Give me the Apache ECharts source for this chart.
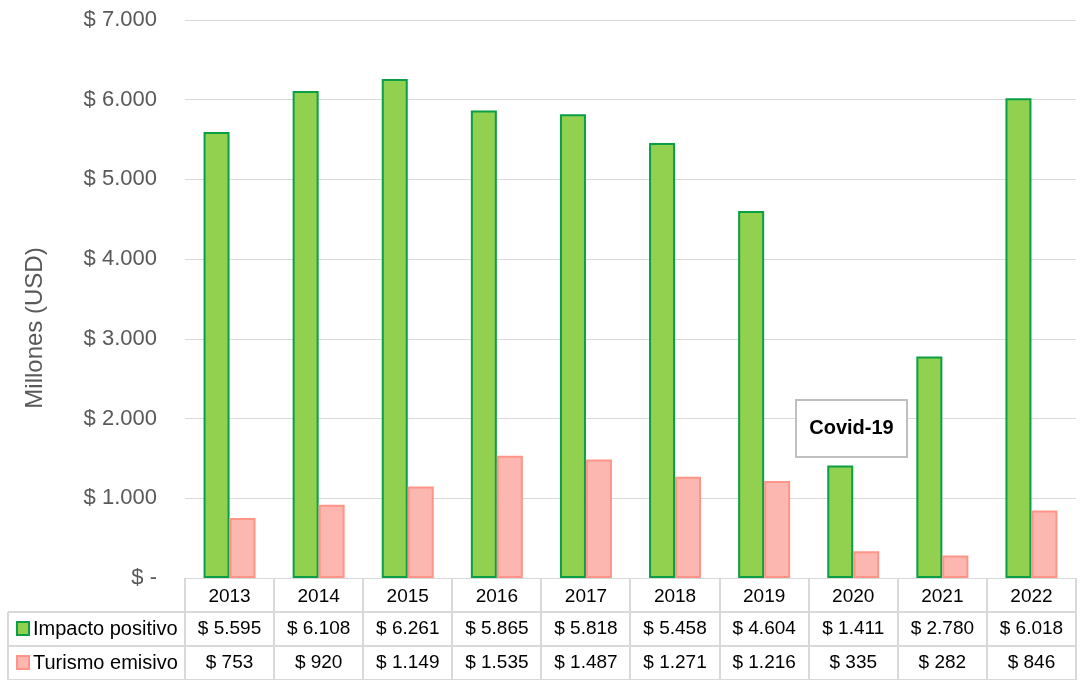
<!DOCTYPE html>
<html>
<head>
<meta charset="utf-8">
<script src="https://cdn.jsdelivr.net/npm/echarts@6/dist/echarts.min.js"></script>
<style>html,body{margin:0;padding:0;background:#fff}#c{width:1081px;height:680px}</style>
</head>
<body>
<div id="c"></div>
<script>
var years = ['2013','2014','2015','2016','2017','2018','2019','2020','2021','2022'];
var impactoPositivo = [5595, 6108, 6261, 5865, 5818, 5458, 4604, 1411, 2780, 6018];
var turismoEmisivo = [753, 920, 1149, 1535, 1487, 1271, 1216, 335, 282, 846];
var seriesNames = ['Impacto positivo', 'Turismo emisivo'];
var yTicks = [0, 1000, 2000, 3000, 4000, 5000, 6000, 7000];
var yAxisTitle = 'Millones (USD)';
var annotationText = 'Covid-19';

function fmt(v) {
  if (v === 0) return '$ -';
  return '$ ' + String(v).replace(/\B(?=(\d{3})+(?!\d))/g, '.');
}

var FONT = 'Liberation Sans';
var GREEN = '#92D050', GREEN_B = '#0A9E45';
var PINK = '#FCB8B0', PINK_B = '#FF9489';
var LINE = '#D9D9D9';

var chart = echarts.init(document.getElementById('c'));
chart.setOption({
  animation: false,
  textStyle: {fontFamily: FONT},
  grid: {left: 185, right: 5, top: 20, bottom: 102, containLabel: false},
  xAxis: {
    type: 'category', data: years,
    axisLine: {show: true, lineStyle: {color: LINE, width: 1}},
    axisTick: {show: false},
    axisLabel: {color: '#000', fontSize: 19, margin: 9, fontFamily: FONT}
  },
  yAxis: {
    type: 'value', min: yTicks[0], max: yTicks[yTicks.length - 1], interval: 1000,
    axisLine: {show: false}, axisTick: {show: false},
    axisLabel: {color: '#595959', fontSize: 22, margin: 28, formatter: fmt, fontFamily: FONT},
    splitLine: {lineStyle: {color: LINE, width: 1}}
  },
  series: [
    {name: seriesNames[0], type: 'bar', data: impactoPositivo, barWidth: 26, barGap: '0%',
     itemStyle: {color: GREEN, borderColor: GREEN_B, borderWidth: 2}},
    {name: seriesNames[1], type: 'bar', data: turismoEmisivo, barWidth: 26, barGap: '0%',
     itemStyle: {color: PINK, borderColor: PINK_B, borderWidth: 2}}
  ]
});

function drawTable() {
  var els = [];
  var p0 = chart.convertToPixel({xAxisIndex: 0}, years[0]);
  var p1 = chart.convertToPixel({xAxisIndex: 0}, years[1]);
  var cw = p1 - p0;
  var left = p0 - cw / 2;
  var right = chart.convertToPixel({xAxisIndex: 0}, years[years.length - 1]) + cw / 2;
  var axisY = chart.convertToPixel({yAxisIndex: 0}, 0);
  var rowH = 34;
  var r1 = axisY + rowH, r2 = axisY + 2 * rowH, r3 = axisY + 3 * rowH;
  var tableLeft = 8;
  var ls = {stroke: LINE, lineWidth: 2};
  for (var i = 0; i <= years.length; i++) {
    var x = Math.round(left + i * cw);
    els.push({type: 'line', shape: {x1: x, y1: axisY, x2: x, y2: r3 + 5}, style: ls, silent: true});
  }
  els.push({type: 'line', shape: {x1: tableLeft, y1: r1, x2: tableLeft, y2: r3 + 5}, style: ls});
  [r1, r2, r3].forEach(function (y) {
    els.push({type: 'line', shape: {x1: tableLeft, y1: y, x2: right, y2: y}, style: ls});
  });
  var rows = [[impactoPositivo, GREEN, GREEN_B], [turismoEmisivo, PINK, PINK_B]];
  rows.forEach(function (r, ri) {
    var cy = axisY + rowH * (ri + 1) + rowH / 2;
    els.push({type: 'rect', shape: {x: 17, y: cy - 7, width: 12, height: 13},
      style: {fill: r[1], stroke: r[2], lineWidth: 2}});
    els.push({type: 'text', x: 33, y: cy, style: {text: seriesNames[ri], fill: '#000', fontSize: 20,
      fontFamily: FONT, textVerticalAlign: 'middle', verticalAlign: 'middle'}});
    r[0].forEach(function (v, ci) {
      var cx = chart.convertToPixel({xAxisIndex: 0}, years[ci]);
      els.push({type: 'text', x: cx, y: cy, style: {text: fmt(v), fill: '#000', fontSize: 19,
        fontFamily: FONT, textAlign: 'center', align: 'center', textVerticalAlign: 'middle', verticalAlign: 'middle'}});
    });
  });
  // y axis title
  els.push({type: 'text', x: 35, y: 328, rotation: Math.PI / 2,
    style: {text: yAxisTitle, fill: '#595959', fontSize: 24, fontFamily: FONT,
      align: 'center', textAlign: 'center', verticalAlign: 'middle', textVerticalAlign: 'middle'}});
  // annotation box
  els.push({type: 'group', x: 796, y: 400, children: [
    {type: 'rect', shape: {x: 0, y: 0, width: 111, height: 57}, style: {fill: '#fff', stroke: '#BFBFBF', lineWidth: 2}},
    {type: 'text', x: 55.5, y: 28.5, style: {text: annotationText, fill: '#000', fontSize: 20, fontWeight: 'bold',
      fontFamily: FONT, align: 'center', textAlign: 'center', verticalAlign: 'middle', textVerticalAlign: 'middle'}}
  ]});
  chart.setOption({graphic: {elements: els}});
}
drawTable();
</script>
</body>
</html>
